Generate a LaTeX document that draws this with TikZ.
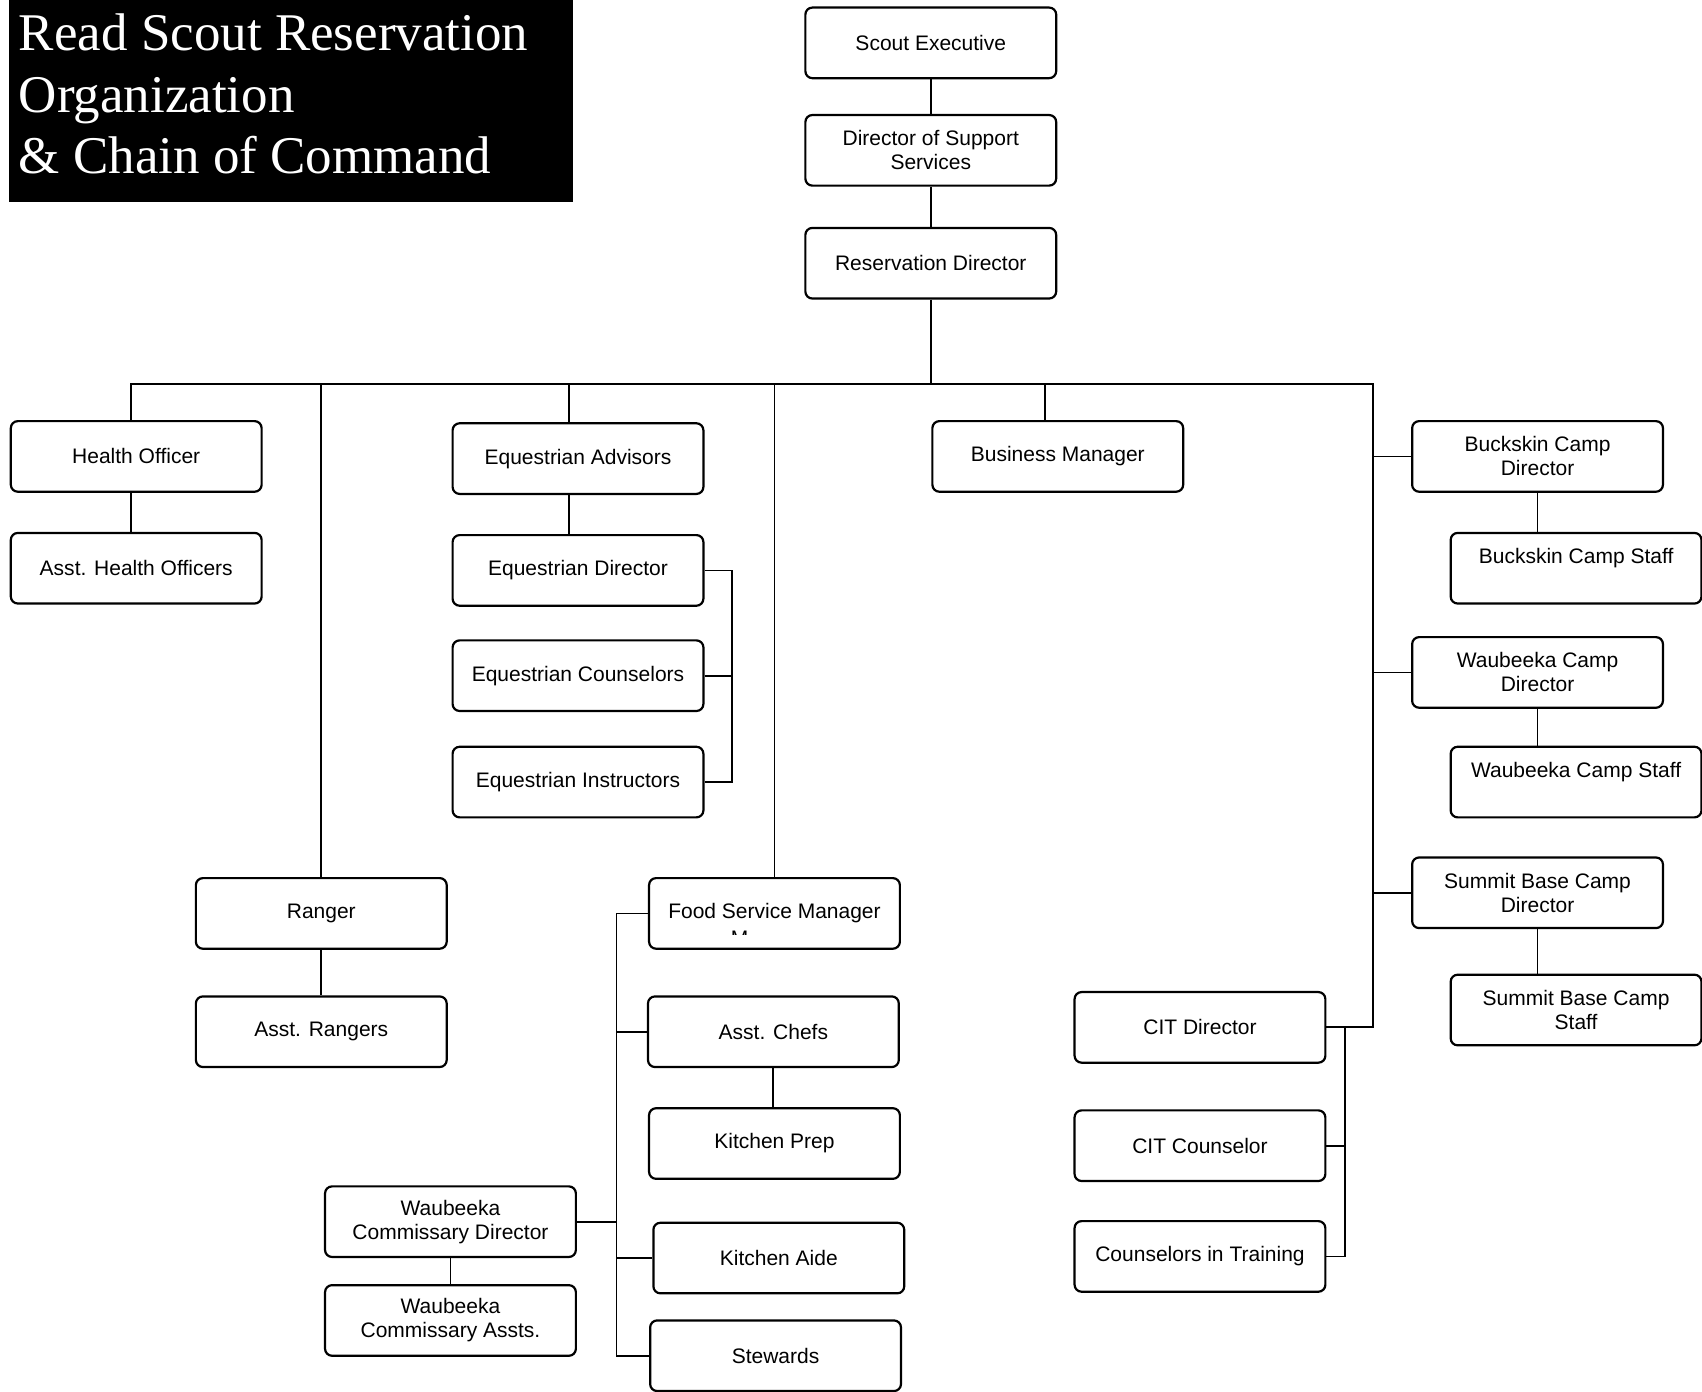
\documentclass[tikz,border=0pt]{standalone}
\usepackage{fontspec}
\setmainfont{Liberation Sans}
\newfontfamily\titlefont{Liberation Serif}
\begin{document}
\begin{tikzpicture}[x=0.5427pt,y=-0.5427pt,
  box/.style={draw=black,line width=1.1pt,rounded corners=3.5pt,minimum width=125.4pt,minimum height=35.3pt,inner sep=0pt,align=center,font=\fontsize{10.5}{12}\selectfont,fill=white},
  link/.style={draw=black,line width=0.9pt}]
\useasboundingbox[fill=white] (0,0) rectangle (1568,1282);
% title
\node[fill=black,minimum width=281.7pt,minimum height=100.9pt,inner sep=0pt,anchor=north west] (title) at (8,0) {};
\node[anchor=base west,align=left,inner sep=0pt,text=white,font=\titlefont\fontsize{26.5}{30.7}\selectfont] (titletext) at (17,160) {Read Scout Reservation\\Organization\\\& Chain of Command};
% nodes
\node[box] (se) at (857.5,39.5) {Scout Executive};
\node[box] (dss) at (857.5,138.5) {Director of Support\\Services};
\node[box] (rd) at (857.5,242.5) {Reservation Director};
\node[box] (ho) at (125.5,420.5) {Health Officer};
\node[box] (aho) at (125.5,523.5) {Asst. Health Officers};
\node[box] (ea) at (532.5,422.5) {Equestrian Advisors};
\node[box] (ed) at (532.5,525.5) {Equestrian Director};
\node[box] (ec) at (532.5,622.5) {Equestrian Counselors};
\node[box] (ei) at (532.5,720.5) {Equestrian Instructors};
\node[box] (bm) at (974.5,420.5) {Business Manager};
\node[box] (bcd) at (1416.5,420.5) {Buckskin Camp\\Director};
\node[box] (bcs) at (1452,523.5) {Buckskin Camp Staff\\\mbox{}};
\node[box] (wcd) at (1416.5,619.5) {Waubeeka Camp\\Director};
\node[box] (wcs) at (1452,720.5) {Waubeeka Camp Staff\\\mbox{}};
\node[box] (sbcd) at (1416.5,822.5) {Summit Base Camp\\Director};
\node[box] (sbcs) at (1452,930.5) {Summit Base Camp\\Staff};
\node[box] (ra) at (296,841.5) {Ranger};
\node[box] (ar) at (296,950.5) {Asst. Rangers};
\node[box] (fsm) at (713.5,841.5) {Food Service Manager};
\begin{scope}
\clip (600,811) rectangle (827,861);
\node[anchor=base,inner sep=0pt,font=\fontsize{10.5}{12}\selectfont] (fsmm) at (681.5,871) {M};
\end{scope}
\node[box] (ac) at (712.5,950.5) {Asst. Chefs};
\node[box] (kp) at (713.5,1053.5) {Kitchen Prep};
\node[box] (ka) at (717.5,1159) {Kitchen Aide};
\node[box] (st) at (714.5,1249) {Stewards};
\node[box] (wcomd) at (415,1125.5) {Waubeeka\\Commissary Director};
\node[box] (wcoma) at (415,1216.5) {Waubeeka\\Commissary Assts.};
\node[box] (citd) at (1105.5,946.5) {CIT Director};
\node[box] (cic) at (1105.5,1055.5) {CIT Counselor};
\node[box] (cit) at (1105.5,1157.5) {Counselors in Training};
% helper coordinates
\coordinate (busR) at (1265,354);
\coordinate (hox) at (121,0);
\coordinate (eqx) at (524,0);
\coordinate (bmx) at (963,0);
\coordinate (eqr) at (674,0);
\coordinate (spx) at (568,0);
\coordinate (citx) at (1239,0);
% connectors
\draw[link] (se) -- (dss);
\draw[link] (dss) -- (rd);
\draw[link] (rd.south) -- (rd.south |- busR);
\draw[link] (hox |- ho.north) |- (busR) |- (citd.east);
\draw[link] (hox |- ho.south) -- (hox |- aho.north);
\draw[link] (ra.north) -- (ra.north |- busR);
\draw[link] (ra) -- (ar);
\draw[link] (eqx |- busR) -- (eqx |- ea.north);
\draw[link] (eqx |- ea.south) -- (eqx |- ed.north);
\draw[link] (ed.east) -| (eqr |- ei.east) -- (ei.east);
\draw[link] (ec.east) -- (eqr |- ec.east);
\draw[link] (fsm.north) -- (fsm.north |- busR);
\draw[link] (bmx |- busR) -- (bmx |- bm.north);
\draw[link] (bcd.west) -- (bcd.west -| busR);
\draw[link] (wcd.west) -- (wcd.west -| busR);
\draw[link] (sbcd.west) -- (sbcd.west -| busR);
\draw[link] (bcd.south) -- (bcd.south |- bcs.north);
\draw[link] (wcd.south) -- (wcd.south |- wcs.north);
\draw[link] (sbcd.south) -- (sbcd.south |- sbcs.north);
\draw[link] (fsm.west) -| (spx |- st.west) -- (st.west);
\draw[link] (ac.west) -- (spx |- ac.west);
\draw[link] (ka.west) -- (spx |- ka.west);
\draw[link] (wcomd.east) -- (spx |- wcomd.east);
\draw[link] (ac.south) -- (ac.south |- kp.north);
\draw[link] (wcomd) -- (wcoma);
\draw[link] (citx |- citd.east) |- (cit.east);
\draw[link] (cic.east) -- (citx |- cic.east);
\end{tikzpicture}
\end{document}
